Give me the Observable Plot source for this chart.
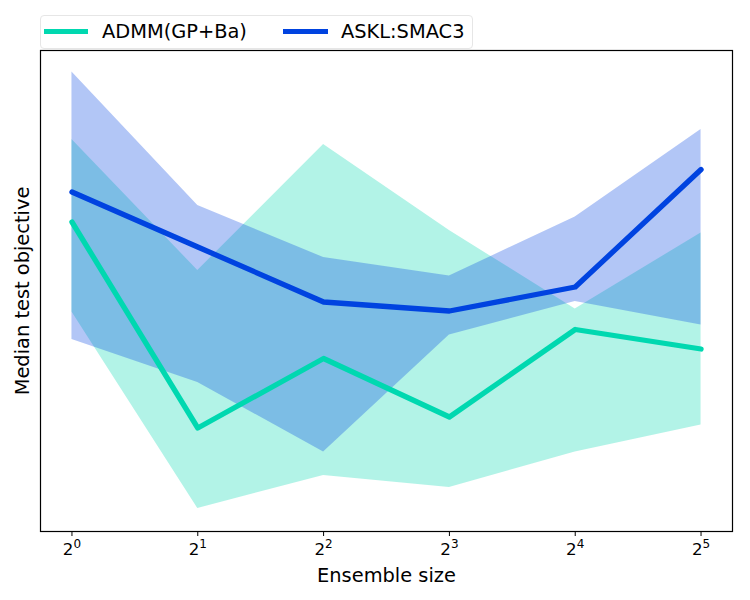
<!DOCTYPE html>
<html><head><meta charset="utf-8">
<script src="https://cdn.jsdelivr.net/npm/d3@7"></script>
<script src="https://cdn.jsdelivr.net/npm/@observablehq/plot@0.6"></script>
<style>
body{margin:0;background:#fff;font-family:"DejaVu Sans",sans-serif;}
#legend{position:relative;width:750px;height:48px;}
.box{position:absolute;left:40px;top:15px;width:433px;height:34px;border:1px solid #e6e6e6;border-radius:4px;box-sizing:border-box;background:#fff}
.sw{position:absolute;height:5px;top:13px}
.lab{position:absolute;top:4px;font-size:19.4px;line-height:23px;color:#000;white-space:nowrap}
#chart svg{display:block}
</style></head><body>
<div id="legend"><div class="box">
<div class="sw" style="left:3px;width:44px;background:#00d8b0"></div>
<div class="lab" style="left:61px">ADMM(GP+Ba)</div>
<div class="sw" style="left:242px;width:45px;background:#0043e0"></div>
<div class="lab" style="left:300px">ASKL:SMAC3</div>
</div></div>
<div id="chart"></div>
<script>
const sizes = [1, 2, 4, 8, 16, 32];
const tickBase = "2";
const tickExponents = ["0", "1", "2", "3", "4", "5"];
const admmMedian = [0.677, 0.265, 0.404, 0.287, 0.462, 0.423];
const admmLow    = [0.497, 0.104, 0.170, 0.146, 0.217, 0.271];
const admmHigh   = [0.842, 0.580, 0.832, 0.660, 0.503, 0.655];
const asklMedian = [0.737, 0.627, 0.517, 0.499, 0.547, 0.782];
const asklLow    = [0.442, 0.356, 0.217, 0.451, 0.518, 0.471];
const asklHigh   = [0.977, 0.710, 0.606, 0.569, 0.687, 0.862];

const teal = "#00d8b0", blue = "#0043e0";
const admm = sizes.map((s, i) => ({s, m: admmMedian[i], lo: admmLow[i], hi: admmHigh[i]}));
const askl = sizes.map((s, i) => ({s, m: asklMedian[i], lo: asklLow[i], hi: asklHigh[i]}));

const chart = Plot.plot({
  width: 750,
  height: 552,
  marginTop: 2,
  marginBottom: 69,
  marginLeft: 40,
  marginRight: 18,
  style: {fontFamily: "DejaVu Sans, sans-serif", background: "#fff", color: "#000"},
  x: {type: "log", base: 2, domain: [Math.pow(2, -0.25), Math.pow(2, 5.25)]},
  y: {domain: [0.058, 1.02]},
  marks: [
    Plot.areaY(admm, {x: "s", y1: "lo", y2: "hi", fill: teal, fillOpacity: 0.3}),
    Plot.areaY(askl, {x: "s", y1: "lo", y2: "hi", fill: blue, fillOpacity: 0.3}),
    Plot.line(admm, {x: "s", y: "m", stroke: teal, strokeWidth: 5.3}),
    Plot.line(askl, {x: "s", y: "m", stroke: blue, strokeWidth: 5.3}),
    Plot.frame({stroke: "#000", strokeWidth: 1.2}),
    Plot.axisX({ticks: sizes, tickFormat: (d) => tickExponents[sizes.indexOf(d)], tickSize: 5, tickPadding: 7, fontSize: 16.7, label: null}),
    Plot.axisY({ticks: [], label: null}),
    Plot.text(["Ensemble size"], {frameAnchor: "bottom", lineAnchor: "middle", dy: 44, fontSize: 19.4, fill: "#000"}),
    Plot.text(["Median test objective"], {frameAnchor: "left", textAnchor: "middle", lineAnchor: "middle", dx: -18, rotate: -90, fontSize: 19.4, fill: "#000"})
  ]
});
// render tick labels as 2 with a raised exponent
d3.select(chart).selectAll('g[aria-label="x-axis tick label"] text').each(function () {
  const e = this.textContent;
  const t = d3.select(this);
  t.text(tickBase);
  t.append("tspan").attr("dy", "-7").attr("font-size", "12px").text(e);
});
document.getElementById("chart").appendChild(chart);
</script>
</body></html>
